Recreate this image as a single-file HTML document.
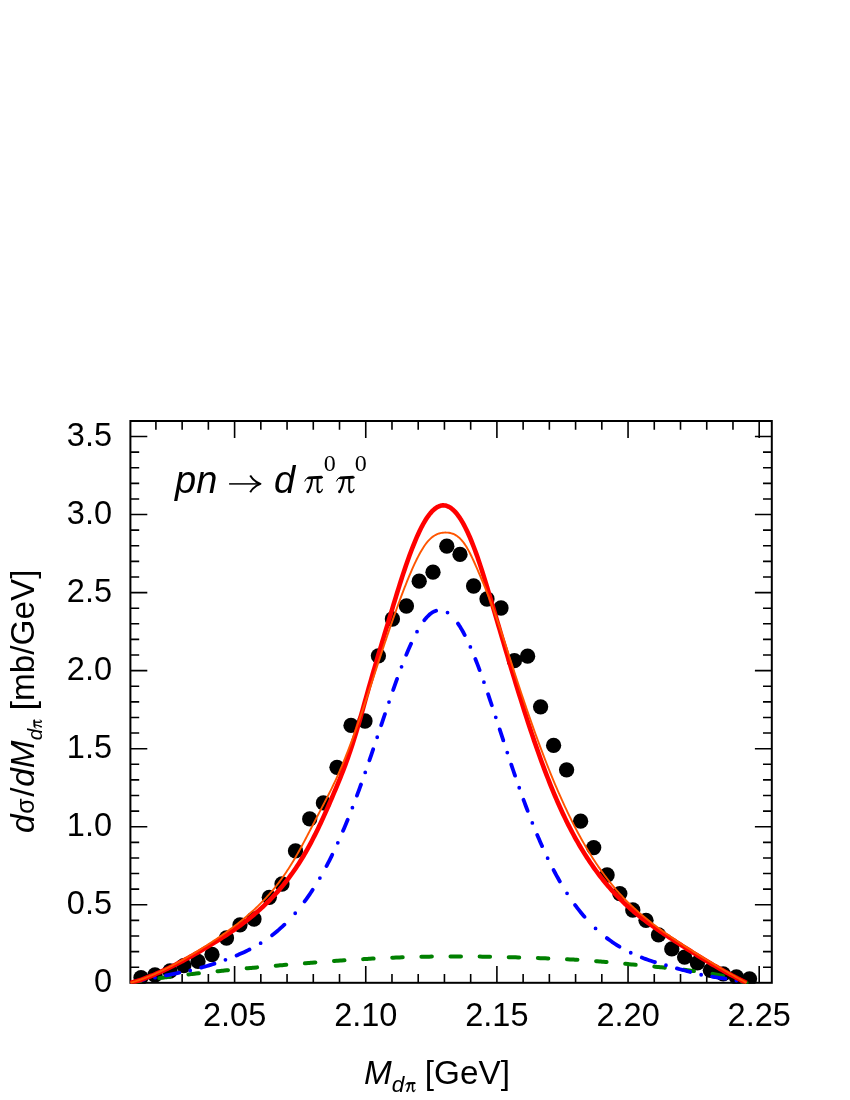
<!DOCTYPE html>
<html><head><meta charset="utf-8"><title>plot</title>
<style>
html,body{margin:0;padding:0;background:#fff;}
svg{display:block;will-change:transform;}
text{font-family:"Liberation Sans",sans-serif;fill:#000;}
.ser{font-family:"Liberation Serif",serif;}
.it{font-style:italic;}
</style></head>
<body>
<svg width="850" height="1100" viewBox="0 0 850 1100">
<rect width="850" height="1100" fill="#fff"/>
<rect x="130.4" y="421.0" width="641.40" height="561.80" fill="none" stroke="#000" stroke-width="2"/>
<path d="M155.91,982.8 v-8.8 M155.91,421.0 v8.8 M182.14,982.8 v-8.8 M182.14,421.0 v8.8 M208.37,982.8 v-8.8 M208.37,421.0 v8.8 M234.60,982.8 v-16.9 M234.60,421.0 v16.9 M260.83,982.8 v-8.8 M260.83,421.0 v8.8 M287.06,982.8 v-8.8 M287.06,421.0 v8.8 M313.29,982.8 v-8.8 M313.29,421.0 v8.8 M339.52,982.8 v-8.8 M339.52,421.0 v8.8 M365.75,982.8 v-16.9 M365.75,421.0 v16.9 M391.98,982.8 v-8.8 M391.98,421.0 v8.8 M418.21,982.8 v-8.8 M418.21,421.0 v8.8 M444.44,982.8 v-8.8 M444.44,421.0 v8.8 M470.67,982.8 v-8.8 M470.67,421.0 v8.8 M496.90,982.8 v-16.9 M496.90,421.0 v16.9 M523.13,982.8 v-8.8 M523.13,421.0 v8.8 M549.36,982.8 v-8.8 M549.36,421.0 v8.8 M575.59,982.8 v-8.8 M575.59,421.0 v8.8 M601.82,982.8 v-8.8 M601.82,421.0 v8.8 M628.05,982.8 v-16.9 M628.05,421.0 v16.9 M654.28,982.8 v-8.8 M654.28,421.0 v8.8 M680.51,982.8 v-8.8 M680.51,421.0 v8.8 M706.74,982.8 v-8.8 M706.74,421.0 v8.8 M732.97,982.8 v-8.8 M732.97,421.0 v8.8 M759.20,982.8 v-16.9 M759.20,421.0 v16.9 M130.4,967.19 h8.8 M771.8,967.19 h-8.8 M130.4,951.58 h8.8 M771.8,951.58 h-8.8 M130.4,935.98 h8.8 M771.8,935.98 h-8.8 M130.4,920.37 h8.8 M771.8,920.37 h-8.8 M130.4,904.76 h16.9 M771.8,904.76 h-16.9 M130.4,889.15 h8.8 M771.8,889.15 h-8.8 M130.4,873.54 h8.8 M771.8,873.54 h-8.8 M130.4,857.94 h8.8 M771.8,857.94 h-8.8 M130.4,842.33 h8.8 M771.8,842.33 h-8.8 M130.4,826.72 h16.9 M771.8,826.72 h-16.9 M130.4,811.11 h8.8 M771.8,811.11 h-8.8 M130.4,795.50 h8.8 M771.8,795.50 h-8.8 M130.4,779.90 h8.8 M771.8,779.90 h-8.8 M130.4,764.29 h8.8 M771.8,764.29 h-8.8 M130.4,748.68 h16.9 M771.8,748.68 h-16.9 M130.4,733.07 h8.8 M771.8,733.07 h-8.8 M130.4,717.46 h8.8 M771.8,717.46 h-8.8 M130.4,701.86 h8.8 M771.8,701.86 h-8.8 M130.4,686.25 h8.8 M771.8,686.25 h-8.8 M130.4,670.64 h16.9 M771.8,670.64 h-16.9 M130.4,655.03 h8.8 M771.8,655.03 h-8.8 M130.4,639.42 h8.8 M771.8,639.42 h-8.8 M130.4,623.82 h8.8 M771.8,623.82 h-8.8 M130.4,608.21 h8.8 M771.8,608.21 h-8.8 M130.4,592.60 h16.9 M771.8,592.60 h-16.9 M130.4,576.99 h8.8 M771.8,576.99 h-8.8 M130.4,561.38 h8.8 M771.8,561.38 h-8.8 M130.4,545.78 h8.8 M771.8,545.78 h-8.8 M130.4,530.17 h8.8 M771.8,530.17 h-8.8 M130.4,514.56 h16.9 M771.8,514.56 h-16.9 M130.4,498.95 h8.8 M771.8,498.95 h-8.8 M130.4,483.34 h8.8 M771.8,483.34 h-8.8 M130.4,467.74 h8.8 M771.8,467.74 h-8.8 M130.4,452.13 h8.8 M771.8,452.13 h-8.8 M130.4,436.52 h16.9 M771.8,436.52 h-16.9" fill="none" stroke="#000" stroke-width="1.6"/>
<defs><g id="pi" fill="none" stroke="#000" stroke-linecap="round" stroke-linejoin="round">
<path d="M0.4,5.3 Q1.3,2.0 4.2,1.9" stroke-width="1.0"/>
<path d="M4.0,2.1 L17.5,1.4" stroke-width="2.7" stroke-linecap="butt"/>
<path d="M3.4,2.3 L17.8,1.6" stroke-width="1.8"/>
<path d="M7.6,2.6 Q7.0,10.5 3.9,15.2" stroke-width="2.1"/>
<circle cx="3.4" cy="15.9" r="1.45" fill="#000" stroke="none"/>
<path d="M13.2,2.6 L13.1,13.2 Q13.1,16.4 15.2,16.4" stroke-width="2.0"/>
<path d="M15.2,16.4 Q17.2,16.3 17.9,13.6" stroke-width="1.2"/>
</g>
<g id="pis" fill="none" stroke="#000" stroke-linecap="round" stroke-linejoin="round">
<path d="M0.4,5.3 Q1.3,2.0 4.2,1.9" stroke-width="1.40"/>
<path d="M4.0,2.1 L17.5,1.4" stroke-width="3.78" stroke-linecap="butt"/>
<path d="M3.4,2.3 L17.8,1.6" stroke-width="2.52"/>
<path d="M7.6,2.6 Q7.0,10.5 3.9,15.2" stroke-width="2.94"/>
<circle cx="3.4" cy="15.9" r="1.7" fill="#000" stroke="none"/>
<path d="M13.2,2.6 L13.1,13.2 Q13.1,16.4 15.2,16.4" stroke-width="2.80"/>
<path d="M15.2,16.4 Q17.2,16.3 17.9,13.6" stroke-width="1.68"/>
</g>
<clipPath id="cp"><rect x="129.4" y="420.0" width="643.40" height="563.80"/></clipPath></defs>
<g clip-path="url(#cp)">
<g fill="#000"><circle cx="141.0" cy="977.6" r="7.65"/><circle cx="155.0" cy="975.0" r="7.65"/><circle cx="170.0" cy="971.0" r="7.65"/><circle cx="183.8" cy="965.6" r="7.65"/><circle cx="198.0" cy="961.4" r="7.65"/><circle cx="212.0" cy="954.5" r="7.65"/><circle cx="226.5" cy="938.0" r="7.65"/><circle cx="240.0" cy="924.8" r="7.65"/><circle cx="254.0" cy="919.0" r="7.65"/><circle cx="269.3" cy="897.3" r="7.65"/><circle cx="282.0" cy="884.0" r="7.65"/><circle cx="295.5" cy="850.9" r="7.65"/><circle cx="309.7" cy="818.9" r="7.65"/><circle cx="323.4" cy="802.9" r="7.65"/><circle cx="337.0" cy="767.3" r="7.65"/><circle cx="351.0" cy="725.4" r="7.65"/><circle cx="365.0" cy="721.0" r="7.65"/><circle cx="378.4" cy="655.8" r="7.65"/><circle cx="392.4" cy="619.0" r="7.65"/><circle cx="406.4" cy="606.0" r="7.65"/><circle cx="419.2" cy="581.2" r="7.65"/><circle cx="433.0" cy="572.2" r="7.65"/><circle cx="446.8" cy="546.2" r="7.65"/><circle cx="460.0" cy="554.4" r="7.65"/><circle cx="473.6" cy="586.0" r="7.65"/><circle cx="487.0" cy="599.0" r="7.65"/><circle cx="501.0" cy="608.0" r="7.65"/><circle cx="514.4" cy="660.7" r="7.65"/><circle cx="527.6" cy="656.2" r="7.65"/><circle cx="540.6" cy="706.8" r="7.65"/><circle cx="553.6" cy="745.4" r="7.65"/><circle cx="566.6" cy="769.8" r="7.65"/><circle cx="580.6" cy="821.2" r="7.65"/><circle cx="593.7" cy="847.6" r="7.65"/><circle cx="607.1" cy="875.0" r="7.65"/><circle cx="619.8" cy="893.6" r="7.65"/><circle cx="632.8" cy="910.0" r="7.65"/><circle cx="646.0" cy="920.3" r="7.65"/><circle cx="658.5" cy="934.8" r="7.65"/><circle cx="671.8" cy="948.9" r="7.65"/><circle cx="684.6" cy="957.1" r="7.65"/><circle cx="697.4" cy="962.9" r="7.65"/><circle cx="710.4" cy="970.3" r="7.65"/><circle cx="723.2" cy="973.9" r="7.65"/><circle cx="736.4" cy="977.0" r="7.65"/><circle cx="749.5" cy="978.8" r="7.65"/></g>
<path d="M135.44,981.92 L136.67,981.71 L137.91,981.50 L139.14,981.29 L140.38,981.08 L140.66,981.04 M159.28,978.19 L160.13,978.07 L162.60,977.72 L163.83,977.55 L165.07,977.38 L166.30,977.21 L168.77,976.88 L169.78,976.75 M188.40,974.43 L188.52,974.42 L190.99,974.13 L192.22,973.98 L194.69,973.70 L195.93,973.56 L198.40,973.28 L198.90,973.22 M217.52,971.22 L218.15,971.16 L220.62,970.90 L221.85,970.78 L223.09,970.65 L224.32,970.53 L226.79,970.28 L228.02,970.15 M246.64,968.35 L247.77,968.24 L250.24,968.01 L251.48,967.90 L252.71,967.78 L253.95,967.67 L256.42,967.44 L257.14,967.37 M275.76,965.71 L276.17,965.67 L278.64,965.46 L279.87,965.35 L282.34,965.14 L283.57,965.03 L286.04,964.82 L286.26,964.80 M304.88,963.26 L305.79,963.19 L308.26,962.99 L309.50,962.89 L310.73,962.80 L311.97,962.70 L314.44,962.51 L315.38,962.43 M334.00,961.05 L334.19,961.03 L336.66,960.86 L337.89,960.77 L340.36,960.60 L341.59,960.52 L344.06,960.35 L344.50,960.32 M363.12,959.15 L363.81,959.11 L366.28,958.96 L367.52,958.89 L368.75,958.83 L369.99,958.76 L372.46,958.62 L373.62,958.56 M392.24,957.68 L393.44,957.63 L395.91,957.54 L397.15,957.49 L398.38,957.44 L399.61,957.40 L402.08,957.31 L402.74,957.29 M421.36,956.78 L421.83,956.77 L424.30,956.72 L425.54,956.70 L428.01,956.66 L429.24,956.64 L431.71,956.60 L431.86,956.60 M450.48,956.45 L451.46,956.44 L453.93,956.44 L455.17,956.44 L456.40,956.44 L457.63,956.44 L460.10,956.45 L460.98,956.45 M479.60,956.60 L479.85,956.60 L482.32,956.63 L483.56,956.65 L486.03,956.69 L487.26,956.71 L489.73,956.75 L490.10,956.76 M508.72,957.16 L509.48,957.18 L511.95,957.24 L513.19,957.28 L514.42,957.31 L515.65,957.35 L518.12,957.42 L519.22,957.45 M537.84,958.07 L537.87,958.07 L540.34,958.16 L541.58,958.20 L544.05,958.30 L545.28,958.35 L547.75,958.44 L548.34,958.47 M566.96,959.28 L567.50,959.31 L569.97,959.42 L571.21,959.48 L573.67,959.62 L574.91,959.70 L577.38,959.87 L577.46,959.87 M596.08,961.21 L597.13,961.29 L599.60,961.48 L600.83,961.58 L602.07,961.68 L603.30,961.79 L605.77,962.00 L606.58,962.07 M625.20,963.81 L625.52,963.84 L627.99,964.09 L629.23,964.21 L631.69,964.45 L632.93,964.56 L635.40,964.78 L635.70,964.80 M654.32,966.61 L655.15,966.70 L657.62,966.97 L658.85,967.11 L660.09,967.24 L661.32,967.36 L663.79,967.59 L664.82,967.69 M683.44,969.76 L683.54,969.77 L686.01,970.09 L687.25,970.25 L689.71,970.59 L690.95,970.74 L693.42,971.04 L693.94,971.11 M712.56,973.87 L713.17,973.97 L715.64,974.41 L716.87,974.64 L719.34,975.11 L720.58,975.38 L723.05,975.96 L723.06,975.96 M741.68,981.18 L742.80,981.54 L744.03,981.95 L745.27,982.37 L746.50,982.80" fill="none" stroke="#008000" stroke-width="4.0" stroke-linecap="round" stroke-linejoin="round"/>
<path d="M135.44,981.47 L136.67,981.17 L137.91,980.88 L139.14,980.61 L140.38,980.35 L141.61,980.11 L142.84,979.87 L144.07,979.65 M155.03,977.65l0.01,0 M165.98,975.34 L167.53,975.03 L168.77,974.79 L171.24,974.30 L173.71,973.82 L176.18,973.33 L177.41,973.09 L179.29,972.72 M190.23,970.49l0.01,0 M201.24,967.61 L203.33,967.02 L204.57,966.67 L207.04,965.95 L208.27,965.58 L210.74,964.83 L211.97,964.44 L214.43,963.66 M225.43,959.80l0.01,0 M236.56,955.48 L237.90,954.90 L239.13,954.36 L241.60,953.27 L244.07,952.15 L246.54,950.98 L247.77,950.38 L249.51,949.50 M260.63,943.20l0.01,0 M272.08,935.23 L273.70,933.98 L274.93,932.99 L277.40,930.94 L278.64,929.89 L281.11,927.70 L282.34,926.58 L284.38,924.65 M295.20,913.25l0.01,0 M304.61,901.47 L305.79,899.86 L307.03,898.14 L308.26,896.39 L309.50,894.60 L310.73,892.77 L311.97,890.91 L312.67,889.83 M319.89,878.05l0.01,0 M326.49,866.12 L326.78,865.56 L328.02,863.19 L329.25,860.77 L330.48,858.31 L331.72,855.81 L332.21,854.79 M337.80,842.85l0.01,0 M343.05,830.84 L344.06,828.45 L345.30,825.49 L346.53,822.48 L347.67,819.67 M352.40,807.65l0.01,0 M356.94,795.60 L357.64,793.70 L358.88,790.33 L360.11,786.92 L360.98,784.50 M365.24,772.45l0.01,0 M369.40,760.39 L369.99,758.67 L371.22,755.04 L372.46,751.39 L373.15,749.32 M377.20,737.25l0.01,0 M381.23,725.18 L382.33,721.88 L383.57,718.19 L384.80,714.50 L384.93,714.12 M389.00,702.05l0.01,0 M393.15,690.00 L393.44,689.15 L394.68,685.63 L395.91,682.14 L397.07,678.91 M401.53,666.85l0.01,0 M406.25,654.86 L407.02,652.99 L408.26,650.06 L409.49,647.20 L410.72,644.43 L411.08,643.65 M417.02,631.65l0.01,0 M424.30,620.21 L425.54,618.67 L426.77,617.25 L429.24,614.80 L430.48,613.76 L432.94,612.06 L434.18,611.40 L436.08,610.66 M447.52,612.53l0.01,0 M457.99,623.61 L458.87,624.91 L460.10,626.85 L461.34,628.89 L462.57,631.04 L463.81,633.29 L464.73,635.06 M470.37,646.94l0.01,0 M475.37,658.97 L476.15,660.95 L477.39,664.16 L478.62,667.42 L479.61,670.10 M483.93,682.14l0.01,0 M488.09,694.20 L488.50,695.41 L489.73,699.08 L490.96,702.77 L491.79,705.27 M495.77,717.34l0.01,0 M499.71,729.41 L500.84,732.89 L502.08,736.67 L503.31,740.45 L503.31,740.46 M507.28,752.54l0.01,0 M511.29,764.60 L511.95,766.58 L513.19,770.24 L514.42,773.88 L515.03,775.67 M519.22,787.74l0.01,0 M523.53,799.78 L524.30,801.88 L525.53,805.22 L526.76,808.53 L527.66,810.89 M532.33,822.94l0.01,0 M537.23,834.93 L537.87,836.46 L539.11,839.35 L540.34,842.20 L541.58,845.01 L542.09,846.14 M547.64,858.14l0.01,0 M553.60,870.03 L553.92,870.66 L555.16,872.99 L556.39,875.28 L557.63,877.53 L558.86,879.73 L559.83,881.44 M567.05,893.34l0.01,0 M575.08,905.04 L576.14,906.47 L577.38,908.10 L578.61,909.70 L581.08,912.80 L582.32,914.30 L583.55,915.76 L584.47,916.83 M595.55,928.45l0.01,0 M606.87,938.11 L608.24,939.14 L609.47,940.05 L611.94,941.81 L614.41,943.48 L616.88,945.08 L618.12,945.85 L619.44,946.66 M630.75,952.77l0.01,0 M641.79,957.58 L644.04,958.45 L645.27,958.90 L647.74,959.79 L648.98,960.21 L651.45,961.04 L652.68,961.44 L654.92,962.13 M665.95,965.26l0.01,0 M676.93,968.45 L678.60,968.90 L679.84,969.23 L682.31,969.87 L684.78,970.50 L687.25,971.16 L688.48,971.49 L690.18,971.94 M701.15,974.73l0.01,0 M712.07,976.61 L714.40,977.03 L715.64,977.25 L718.11,977.70 L719.34,977.85 L721.81,978.15 L723.05,978.31 L725.44,978.63 M736.35,980.51l0.01,0" fill="none" stroke="#0000ff" stroke-width="3.8" stroke-linecap="round" stroke-linejoin="round"/>
<path d="M130.50,982.85 L131.73,982.52 L132.97,982.18 L134.20,981.84 L135.44,981.49 L136.67,981.14 L137.91,980.79 L139.14,980.43 L140.38,980.04 L141.61,979.58 L142.84,979.12 L144.08,978.65 L145.31,978.18 L146.55,977.70 L147.78,977.22 L149.02,976.74 L150.25,976.25 L151.49,975.76 L152.72,975.26 L153.95,974.76 L155.19,974.25 L156.42,973.70 L157.66,973.15 L158.89,972.60 L160.13,972.04 L161.36,971.47 L162.60,970.90 L163.83,970.33 L165.07,969.76 L166.30,969.18 L167.53,968.60 L168.77,968.01 L170.00,967.42 L171.24,966.80 L172.47,966.18 L173.71,965.56 L174.94,964.93 L176.18,964.30 L177.41,963.67 L178.64,963.03 L179.88,962.38 L181.11,961.74 L182.35,961.09 L183.58,960.43 L184.82,959.76 L186.05,959.09 L187.29,958.42 L188.52,957.74 L189.75,957.06 L190.99,956.38 L192.22,955.69 L193.46,955.00 L194.69,954.30 L195.93,953.60 L197.16,952.89 L198.40,952.18 L199.63,951.47 L200.86,950.75 L202.10,950.02 L203.33,949.30 L204.57,948.56 L205.80,947.83 L207.04,947.10 L208.27,946.36 L209.51,945.62 L210.74,944.87 L211.97,944.12 L213.21,943.36 L214.44,942.60 L215.68,941.83 L216.91,941.05 L218.15,940.27 L219.38,939.48 L220.62,938.70 L221.85,937.92 L223.09,937.13 L224.32,936.34 L225.55,935.54 L226.79,934.74 L228.02,933.92 L229.26,933.10 L230.49,932.27 L231.73,931.43 L232.96,930.58 L234.20,929.73 L235.43,928.86 L236.66,927.99 L237.90,927.10 L239.13,926.21 L240.37,925.31 L241.60,924.39 L242.84,923.47 L244.07,922.54 L245.31,921.59 L246.54,920.63 L247.77,919.66 L249.01,918.68 L250.24,917.69 L251.48,916.68 L252.71,915.66 L253.95,914.63 L255.18,913.58 L256.42,912.52 L257.65,911.44 L258.88,910.35 L260.12,909.25 L261.35,908.12 L262.59,906.98 L263.82,905.83 L265.06,904.65 L266.29,903.46 L267.53,902.25 L268.76,901.03 L269.99,899.78 L271.23,898.51 L272.46,897.22 L273.70,895.91 L274.93,894.58 L276.17,893.23 L277.40,891.85 L278.64,890.45 L279.87,889.03 L281.11,887.58 L282.34,886.10 L283.57,884.60 L284.81,883.07 L286.04,881.51 L287.28,879.93 L288.51,878.31 L289.75,876.66 L290.98,874.98 L292.22,873.27 L293.45,871.53 L294.68,869.75 L295.92,867.93 L297.15,866.08 L298.39,864.20 L299.62,862.27 L300.86,860.30 L302.09,858.29 L303.33,856.24 L304.56,854.15 L305.79,852.01 L307.03,849.84 L308.26,847.62 L309.50,845.35 L310.73,843.05 L311.97,840.71 L313.20,838.32 L314.44,835.90 L315.67,833.43 L316.90,830.93 L318.14,828.39 L319.37,825.82 L320.61,823.20 L321.84,820.56 L323.08,817.87 L324.31,815.16 L325.55,812.42 L326.78,809.64 L328.02,806.84 L329.25,804.01 L330.48,801.16 L331.72,798.28 L332.95,795.38 L334.19,792.47 L335.42,789.54 L336.66,786.58 L337.89,783.60 L339.13,780.59 L340.36,777.54 L341.59,774.45 L342.83,771.30 L344.06,768.10 L345.30,764.84 L346.53,761.50 L347.77,758.09 L349.00,754.59 L350.24,750.99 L351.47,747.29 L352.70,743.48 L353.94,739.57 L355.17,735.56 L356.41,731.47 L357.64,727.29 L358.88,723.05 L360.11,718.75 L361.35,714.40 L362.58,710.01 L363.81,705.60 L365.05,701.17 L366.28,696.75 L367.52,692.34 L368.75,687.96 L369.99,683.61 L371.22,679.29 L372.46,675.01 L373.69,670.76 L374.92,666.54 L376.16,662.34 L377.39,658.17 L378.63,654.02 L379.86,649.90 L381.10,645.79 L382.33,641.69 L383.57,637.61 L384.80,633.53 L386.04,629.46 L387.27,625.39 L388.50,621.31 L389.74,617.23 L390.97,613.14 L392.21,609.05 L393.44,604.96 L394.68,600.88 L395.91,596.83 L397.15,592.80 L398.38,588.81 L399.61,584.87 L400.85,580.99 L402.08,577.15 L403.32,573.38 L404.55,569.68 L405.79,566.04 L407.02,562.47 L408.26,558.98 L409.49,555.57 L410.72,552.24 L411.96,548.99 L413.19,545.84 L414.43,542.78 L415.66,539.82 L416.90,536.95 L418.13,534.20 L419.37,531.55 L420.60,529.01 L421.83,526.58 L423.07,524.28 L424.30,522.10 L425.54,520.04 L426.77,518.11 L428.01,516.31 L429.24,514.65 L430.48,513.11 L431.71,511.72 L432.94,510.46 L434.18,509.34 L435.41,508.35 L436.65,507.51 L437.88,506.81 L439.12,506.24 L440.35,505.82 L441.59,505.55 L442.82,505.41 L444.06,505.42 L445.29,505.57 L446.52,505.86 L447.76,506.30 L448.99,506.88 L450.23,507.60 L451.46,508.46 L452.70,509.46 L453.93,510.60 L455.17,511.88 L456.40,513.30 L457.63,514.85 L458.87,516.54 L460.10,518.36 L461.34,520.32 L462.57,522.40 L463.81,524.61 L465.04,526.96 L466.28,529.42 L467.51,532.01 L468.74,534.72 L469.98,537.54 L471.21,540.49 L472.45,543.54 L473.68,546.71 L474.92,549.99 L476.15,553.37 L477.39,556.85 L478.62,560.44 L479.85,564.11 L481.09,567.88 L482.32,571.72 L483.56,575.63 L484.79,579.60 L486.03,583.62 L487.26,587.69 L488.50,591.80 L489.73,595.93 L490.96,600.10 L492.20,604.28 L493.43,608.47 L494.67,612.66 L495.90,616.86 L497.14,621.05 L498.37,625.24 L499.61,629.43 L500.84,633.60 L502.08,637.78 L503.31,641.94 L504.54,646.10 L505.78,650.25 L507.01,654.38 L508.25,658.51 L509.48,662.62 L510.72,666.72 L511.95,670.81 L513.19,674.88 L514.42,678.93 L515.65,682.97 L516.89,686.99 L518.12,691.00 L519.36,694.98 L520.59,698.94 L521.83,702.88 L523.06,706.79 L524.30,710.68 L525.53,714.54 L526.76,718.37 L528.00,722.17 L529.23,725.94 L530.47,729.68 L531.70,733.38 L532.94,737.05 L534.17,740.68 L535.41,744.27 L536.64,747.83 L537.87,751.35 L539.11,754.83 L540.34,758.27 L541.58,761.67 L542.81,765.02 L544.05,768.34 L545.28,771.61 L546.52,774.85 L547.75,778.03 L548.98,781.18 L550.22,784.28 L551.45,787.34 L552.69,790.36 L553.92,793.33 L555.16,796.26 L556.39,799.15 L557.63,801.99 L558.86,804.79 L560.10,807.54 L561.33,810.25 L562.56,812.91 L563.80,815.54 L565.03,818.12 L566.27,820.66 L567.50,823.15 L568.74,825.61 L569.97,828.02 L571.21,830.40 L572.44,832.74 L573.67,835.03 L574.91,837.29 L576.14,839.52 L577.38,841.71 L578.61,843.86 L579.85,845.97 L581.08,848.05 L582.32,850.10 L583.55,852.12 L584.78,854.10 L586.02,856.04 L587.25,857.96 L588.49,859.85 L589.72,861.70 L590.96,863.52 L592.19,865.32 L593.43,867.08 L594.66,868.82 L595.89,870.53 L597.13,872.21 L598.36,873.86 L599.60,875.48 L600.83,877.08 L602.07,878.66 L603.30,880.21 L604.54,881.73 L605.77,883.23 L607.01,884.70 L608.24,886.15 L609.47,887.58 L610.71,888.99 L611.94,890.37 L613.18,891.73 L614.41,893.07 L615.65,894.39 L616.88,895.69 L618.12,896.97 L619.35,898.23 L620.58,899.46 L621.82,900.68 L623.05,901.88 L624.29,903.07 L625.52,904.23 L626.76,905.38 L627.99,906.51 L629.23,907.62 L630.46,908.72 L631.69,909.80 L632.93,910.86 L634.16,911.91 L635.40,912.94 L636.63,913.96 L637.87,914.97 L639.10,915.96 L640.34,916.93 L641.57,917.90 L642.80,918.85 L644.04,919.79 L645.27,920.72 L646.51,921.64 L647.74,922.55 L648.98,923.46 L650.21,924.35 L651.45,925.24 L652.68,926.11 L653.91,926.98 L655.15,927.85 L656.38,928.70 L657.62,929.56 L658.85,930.40 L660.09,931.24 L661.32,932.08 L662.56,932.91 L663.79,933.74 L665.03,934.56 L666.26,935.38 L667.49,936.20 L668.73,937.01 L669.96,937.82 L671.20,938.63 L672.43,939.44 L673.67,940.24 L674.90,941.04 L676.14,941.84 L677.37,942.64 L678.60,943.44 L679.84,944.23 L681.07,945.03 L682.31,945.82 L683.54,946.61 L684.78,947.40 L686.01,948.19 L687.25,948.97 L688.48,949.76 L689.71,950.54 L690.95,951.32 L692.18,952.10 L693.42,952.88 L694.65,953.65 L695.89,954.42 L697.12,955.19 L698.36,955.96 L699.59,956.72 L700.82,957.48 L702.06,958.24 L703.29,958.99 L704.53,959.74 L705.76,960.49 L707.00,961.23 L708.23,961.97 L709.47,962.71 L710.70,963.45 L711.93,964.18 L713.17,964.90 L714.40,965.62 L715.64,966.34 L716.87,967.06 L718.11,967.76 L719.34,968.47 L720.58,969.17 L721.81,969.87 L723.05,970.56 L724.28,971.25 L725.51,971.93 L726.75,972.61 L727.98,973.28 L729.22,973.95 L730.45,974.62 L731.69,975.28 L732.92,975.93 L734.16,976.58 L735.39,977.23 L736.62,977.87 L737.86,978.50 L739.09,979.13 L740.33,979.76 L741.56,980.38 L742.80,980.99 L744.03,981.60 L745.27,982.20 L746.50,982.80" fill="none" stroke="#ff0000" stroke-width="4.6" stroke-linejoin="round"/>
<path d="M130.50,982.80 L131.73,982.44 L132.97,982.07 L134.20,981.69 L135.44,981.30 L136.67,980.90 L137.91,980.50 L139.14,980.08 L140.38,979.65 L141.61,979.21 L142.84,978.76 L144.08,978.30 L145.31,977.83 L146.55,977.36 L147.78,976.87 L149.02,976.37 L150.25,975.87 L151.49,975.36 L152.72,974.83 L153.95,974.30 L155.19,973.76 L156.42,973.22 L157.66,972.66 L158.89,972.10 L160.13,971.53 L161.36,970.95 L162.60,970.36 L163.83,969.77 L165.07,969.16 L166.30,968.56 L167.53,967.94 L168.77,967.32 L170.00,966.69 L171.24,966.05 L172.47,965.41 L173.71,964.76 L174.94,964.11 L176.18,963.45 L177.41,962.78 L178.64,962.11 L179.88,961.43 L181.11,960.74 L182.35,960.05 L183.58,959.36 L184.82,958.66 L186.05,957.95 L187.29,957.24 L188.52,956.52 L189.75,955.80 L190.99,955.07 L192.22,954.34 L193.46,953.61 L194.69,952.86 L195.93,952.12 L197.16,951.37 L198.40,950.61 L199.63,949.85 L200.86,949.08 L202.10,948.31 L203.33,947.54 L204.57,946.75 L205.80,945.97 L207.04,945.18 L208.27,944.38 L209.51,943.58 L210.74,942.78 L211.97,941.96 L213.21,941.15 L214.44,940.32 L215.68,939.50 L216.91,938.66 L218.15,937.82 L219.38,936.98 L220.62,936.13 L221.85,935.27 L223.09,934.40 L224.32,933.53 L225.55,932.65 L226.79,931.77 L228.02,930.87 L229.26,929.97 L230.49,929.07 L231.73,928.15 L232.96,927.22 L234.20,926.29 L235.43,925.35 L236.66,924.39 L237.90,923.43 L239.13,922.46 L240.37,921.47 L241.60,920.48 L242.84,919.48 L244.07,918.46 L245.31,917.43 L246.54,916.39 L247.77,915.33 L249.01,914.26 L250.24,913.18 L251.48,912.08 L252.71,910.97 L253.95,909.84 L255.18,908.70 L256.42,907.54 L257.65,906.36 L258.88,905.16 L260.12,903.94 L261.35,902.70 L262.59,901.45 L263.82,900.17 L265.06,898.87 L266.29,897.54 L267.53,896.19 L268.76,894.82 L269.99,893.42 L271.23,892.00 L272.46,890.55 L273.70,889.06 L274.93,887.55 L276.17,886.01 L277.40,884.44 L278.64,882.83 L279.87,881.18 L281.11,879.51 L282.34,877.79 L283.57,876.04 L284.81,874.26 L286.04,872.44 L287.28,870.58 L288.51,868.69 L289.75,866.76 L290.98,864.79 L292.22,862.78 L293.45,860.74 L294.68,858.67 L295.92,856.55 L297.15,854.40 L298.39,852.21 L299.62,850.00 L300.86,847.75 L302.09,845.47 L303.33,843.17 L304.56,840.84 L305.79,838.50 L307.03,836.14 L308.26,833.76 L309.50,831.38 L310.73,828.99 L311.97,826.60 L313.20,824.21 L314.44,821.82 L315.67,819.45 L316.90,817.09 L318.14,814.73 L319.37,812.37 L320.61,810.02 L321.84,807.67 L323.08,805.30 L324.31,802.93 L325.55,800.55 L326.78,798.16 L328.02,795.74 L329.25,793.29 L330.48,790.82 L331.72,788.32 L332.95,785.77 L334.19,783.19 L335.42,780.55 L336.66,777.86 L337.89,775.12 L339.13,772.33 L340.36,769.48 L341.59,766.58 L342.83,763.63 L344.06,760.63 L345.30,757.57 L346.53,754.47 L347.77,751.32 L349.00,748.13 L350.24,744.89 L351.47,741.60 L352.70,738.27 L353.94,734.90 L355.17,731.48 L356.41,728.03 L357.64,724.54 L358.88,721.01 L360.11,717.45 L361.35,713.86 L362.58,710.24 L363.81,706.59 L365.05,702.91 L366.28,699.21 L367.52,695.50 L368.75,691.76 L369.99,688.01 L371.22,684.25 L372.46,680.48 L373.69,676.71 L374.92,672.93 L376.16,669.16 L377.39,665.39 L378.63,661.63 L379.86,657.88 L381.10,654.14 L382.33,650.42 L383.57,646.72 L384.80,643.03 L386.04,639.36 L387.27,635.71 L388.50,632.08 L389.74,628.48 L390.97,624.90 L392.21,621.35 L393.44,617.82 L394.68,614.33 L395.91,610.87 L397.15,607.45 L398.38,604.06 L399.61,600.71 L400.85,597.39 L402.08,594.12 L403.32,590.89 L404.55,587.70 L405.79,584.56 L407.02,581.47 L408.26,578.43 L409.49,575.45 L410.72,572.53 L411.96,569.67 L413.19,566.89 L414.43,564.19 L415.66,561.57 L416.90,559.04 L418.13,556.60 L419.37,554.27 L420.60,552.03 L421.83,549.92 L423.07,547.91 L424.30,546.03 L425.54,544.28 L426.77,542.66 L428.01,541.18 L429.24,539.84 L430.48,538.63 L431.71,537.55 L432.94,536.59 L434.18,535.75 L435.41,535.03 L436.65,534.41 L437.88,533.89 L439.12,533.47 L440.35,533.14 L441.59,532.89 L442.82,532.71 L444.06,532.61 L445.29,532.57 L446.52,532.59 L447.76,532.67 L448.99,532.81 L450.23,533.03 L451.46,533.33 L452.70,533.73 L453.93,534.22 L455.17,534.83 L456.40,535.56 L457.63,536.42 L458.87,537.42 L460.10,538.56 L461.34,539.85 L462.57,541.29 L463.81,542.90 L465.04,544.66 L466.28,546.59 L467.51,548.67 L468.74,550.90 L469.98,553.26 L471.21,555.74 L472.45,558.33 L473.68,561.00 L474.92,563.74 L476.15,566.55 L477.39,569.39 L478.62,572.27 L479.85,575.16 L481.09,578.07 L482.32,581.01 L483.56,583.98 L484.79,586.98 L486.03,590.02 L487.26,593.10 L488.50,596.22 L489.73,599.40 L490.96,602.63 L492.20,605.91 L493.43,609.25 L494.67,612.66 L495.90,616.12 L497.14,619.65 L498.37,623.23 L499.61,626.85 L500.84,630.52 L502.08,634.22 L503.31,637.95 L504.54,641.71 L505.78,645.49 L507.01,649.29 L508.25,653.10 L509.48,656.92 L510.72,660.74 L511.95,664.56 L513.19,668.38 L514.42,672.19 L515.65,675.99 L516.89,679.78 L518.12,683.55 L519.36,687.29 L520.59,691.02 L521.83,694.72 L523.06,698.39 L524.30,702.04 L525.53,705.67 L526.76,709.27 L528.00,712.85 L529.23,716.40 L530.47,719.93 L531.70,723.43 L532.94,726.90 L534.17,730.34 L535.41,733.76 L536.64,737.15 L537.87,740.52 L539.11,743.85 L540.34,747.16 L541.58,750.44 L542.81,753.69 L544.05,756.92 L545.28,760.11 L546.52,763.27 L547.75,766.40 L548.98,769.50 L550.22,772.56 L551.45,775.60 L552.69,778.60 L553.92,781.57 L555.16,784.51 L556.39,787.42 L557.63,790.29 L558.86,793.13 L560.10,795.94 L561.33,798.71 L562.56,801.45 L563.80,804.15 L565.03,806.82 L566.27,809.46 L567.50,812.07 L568.74,814.64 L569.97,817.17 L571.21,819.68 L572.44,822.15 L573.67,824.58 L574.91,826.99 L576.14,829.36 L577.38,831.70 L578.61,834.00 L579.85,836.27 L581.08,838.51 L582.32,840.72 L583.55,842.90 L584.78,845.04 L586.02,847.15 L587.25,849.23 L588.49,851.28 L589.72,853.30 L590.96,855.29 L592.19,857.25 L593.43,859.18 L594.66,861.08 L595.89,862.94 L597.13,864.78 L598.36,866.60 L599.60,868.38 L600.83,870.13 L602.07,871.86 L603.30,873.56 L604.54,875.23 L605.77,876.88 L607.01,878.49 L608.24,880.09 L609.47,881.65 L610.71,883.19 L611.94,884.71 L613.18,886.20 L614.41,887.67 L615.65,889.11 L616.88,890.53 L618.12,891.92 L619.35,893.30 L620.58,894.65 L621.82,895.97 L623.05,897.28 L624.29,898.56 L625.52,899.83 L626.76,901.07 L627.99,902.30 L629.23,903.51 L630.46,904.70 L631.69,905.87 L632.93,907.03 L634.16,908.17 L635.40,909.30 L636.63,910.41 L637.87,911.50 L639.10,912.59 L640.34,913.66 L641.57,914.71 L642.80,915.75 L644.04,916.78 L645.27,917.80 L646.51,918.81 L647.74,919.81 L648.98,920.79 L650.21,921.77 L651.45,922.73 L652.68,923.69 L653.91,924.63 L655.15,925.57 L656.38,926.50 L657.62,927.42 L658.85,928.33 L660.09,929.24 L661.32,930.14 L662.56,931.03 L663.79,931.91 L665.03,932.79 L666.26,933.66 L667.49,934.52 L668.73,935.38 L669.96,936.23 L671.20,937.08 L672.43,937.92 L673.67,938.75 L674.90,939.58 L676.14,940.41 L677.37,941.23 L678.60,942.05 L679.84,942.86 L681.07,943.67 L682.31,944.48 L683.54,945.28 L684.78,946.08 L686.01,946.87 L687.25,947.66 L688.48,948.45 L689.71,949.24 L690.95,950.02 L692.18,950.80 L693.42,951.57 L694.65,952.35 L695.89,953.12 L697.12,953.89 L698.36,954.65 L699.59,955.41 L700.82,956.17 L702.06,956.93 L703.29,957.69 L704.53,958.44 L705.76,959.20 L707.00,959.95 L708.23,960.69 L709.47,961.44 L710.70,962.18 L711.93,962.93 L713.17,963.67 L714.40,964.40 L715.64,965.14 L716.87,965.87 L718.11,966.61 L719.34,967.34 L720.58,968.06 L721.81,968.79 L723.05,969.51 L724.28,970.24 L725.51,970.95 L726.75,971.67 L727.98,972.39 L729.22,973.10 L730.45,973.81 L731.69,974.52 L732.92,975.22 L734.16,975.93 L735.39,976.63 L736.62,977.33 L737.86,978.02 L739.09,978.71 L740.33,979.40 L741.56,980.09 L742.80,980.77 L744.03,981.45 L745.27,982.13 L746.50,982.80" fill="none" stroke="#ff5500" stroke-width="1.9" stroke-linejoin="round"/>
</g>
<g font-size="32.5"><text x="234.6" y="1026.2" text-anchor="middle">2.05</text><text x="365.8" y="1026.2" text-anchor="middle">2.10</text><text x="496.9" y="1026.2" text-anchor="middle">2.15</text><text x="628.1" y="1026.2" text-anchor="middle">2.20</text><text x="759.2" y="1026.2" text-anchor="middle">2.25</text><text x="112.0" y="992.0" text-anchor="end">0</text><text x="112.0" y="914.0" text-anchor="end">0.5</text><text x="112.0" y="835.9" text-anchor="end">1.0</text><text x="112.0" y="757.9" text-anchor="end">1.5</text><text x="112.0" y="679.8" text-anchor="end">2.0</text><text x="112.0" y="601.8" text-anchor="end">2.5</text><text x="112.0" y="523.8" text-anchor="end">3.0</text><text x="112.0" y="445.7" text-anchor="end">3.5</text></g>
<!-- x title -->
<g font-size="33.3">
<text x="364.0" y="1083.8" class="it">M</text>
<text x="391.8" y="1091.6" font-size="22.6" class="it">d</text>
<use href="#pis" transform="translate(405.2,1082.2) scale(0.56)"/>
<text x="424.8" y="1083.8">[GeV]</text>
</g>
<!-- y title -->
<g font-size="33.3" transform="translate(33.8,833.1) rotate(-90)">
<text x="0" y="0" class="it">d</text>
<text x="19.4" y="0" font-size="25">σ</text>
<text x="36.3" y="0">/</text>
<text x="46.3" y="0" class="it">dM</text>
<text x="92.9" y="8.0" font-size="20.6" class="it">d</text>
<use href="#pis" transform="translate(104.6,-0.3) scale(0.48)"/>
<text x="122.9" y="0">[mb/GeV]</text>
</g>
<!-- annotation -->
<g font-size="38">
<text x="175.1" y="492.5" class="it">pn</text>
<path d="M229.1,483.9 H259.5" fill="none" stroke="#000" stroke-width="1.5"/>
<path d="M250.2,475.6 Q253.6,481.3 260.4,483.9 Q253.6,486.5 250.2,492.2" fill="none" stroke="#000" stroke-width="2" stroke-linejoin="round" stroke-linecap="butt"/>
<text x="274.1" y="492.5" class="it">d</text>
<use href="#pi" transform="translate(304.4,475.8)"/>
<text x="323.7" y="470.8" class="ser" font-size="24">0</text>
<use href="#pi" transform="translate(336.1,475.8)"/>
<text x="354.8" y="470.8" class="ser" font-size="24">0</text>
</g>
</svg>
</body></html>
